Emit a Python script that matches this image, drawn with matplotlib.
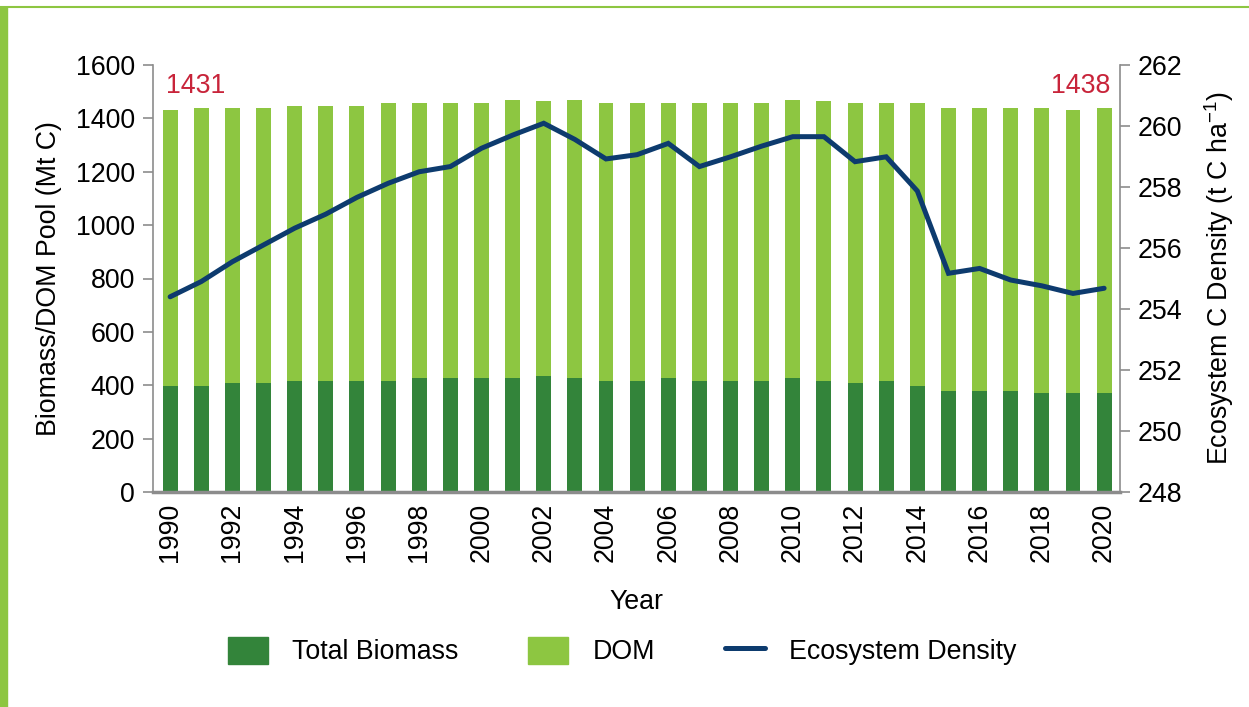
import matplotlib.pyplot as plt
from matplotlib.patches import Rectangle
from matplotlib.lines import Line2D

plt.rcParams['font.family'] = ['Liberation Sans', 'DejaVu Sans']
plt.rcParams['mathtext.fontset'] = 'custom'
plt.rcParams['mathtext.rm'] = 'Liberation Sans'

anos = list(range(1990, 2021))

# total do pool (biomassa + DOM), Mt C
total = [1431, 1440, 1440, 1440, 1447, 1447, 1447, 1457, 1457, 1457,
         1457, 1468, 1464, 1468, 1457, 1457, 1457, 1457, 1457, 1457,
         1468, 1464, 1457, 1457, 1457, 1438, 1438, 1438, 1438, 1433,
         1438]

biomassa = [398, 398, 408, 408, 416, 416, 416, 416, 427, 427,
            427, 427, 436, 427, 416, 416, 427, 416, 416, 416,
            427, 416, 408, 416, 398, 378, 378, 378, 371, 371,
            371]

dom = [t - b for t, b in zip(total, biomassa)]

# densidade do ecossistema, t C/ha
densidade = [254.40, 254.90, 255.55, 256.10, 256.65, 257.11, 257.66, 258.12,
             258.50, 258.67, 259.27, 259.70, 260.09, 259.56, 258.92, 259.06,
             259.43, 258.67, 258.99, 259.34, 259.65, 259.65, 258.83, 258.99,
             257.87, 255.17, 255.33, 254.95, 254.76, 254.51, 254.68]

cor_bio = '#33843a'
cor_dom = '#8dc641'
cor_linha = '#0d3b6e'
cor_vermelho = '#c8243a'
cor_eixo = '#8c8c8c'
fs = 19.3

fig = plt.figure(figsize=(12.49, 7.07), dpi=100)
ax = fig.add_axes([153 / 1249, 1 - 492 / 707, (1120 - 153) / 1249, (492 - 65) / 707])

ax.bar(anos, biomassa, width=0.48, color=cor_bio, label='Total Biomass')
ax.bar(anos, dom, width=0.48, bottom=biomassa, color=cor_dom, label='DOM')

ax.set_xlim(1989.45, 2020.51)
ax.set_ylim(0, 1600)
ax.set_yticks(range(0, 1601, 200))
ax.set_xticks(range(1990, 2021, 2))
ax.tick_params(axis='x', rotation=90, labelsize=fs, length=0, pad=8)
ax.tick_params(axis='y', labelsize=fs, color=cor_eixo, length=7, width=1.2, pad=6)
ax.set_xlabel('Year', fontsize=fs, labelpad=19)
ax.set_ylabel('Biomass/DOM Pool (Mt C)', fontsize=fs, labelpad=10)

for lado in ['top', 'right']:
    ax.spines[lado].set_visible(False)
ax.spines['left'].set_color(cor_eixo)
ax.spines['left'].set_linewidth(1.2)
ax.spines['bottom'].set_color(cor_eixo)
ax.spines['bottom'].set_linewidth(2.5)

ax2 = ax.twinx()
ax2.plot(anos, densidade, color=cor_linha, linewidth=3.6, solid_capstyle='round',
         solid_joinstyle='miter')
ax2.set_ylim(248, 262)
ax2.set_yticks(range(248, 263, 2))
ax2.tick_params(axis='y', labelsize=fs, color=cor_eixo, length=7, width=1.2, pad=6)
ax2.set_ylabel('Ecosystem C Density (t C ha$^{\\mathregular{-1}}$)', fontsize=fs, labelpad=14)
for lado in ['top', 'left', 'bottom']:
    ax2.spines[lado].set_visible(False)
ax2.spines['right'].set_color(cor_eixo)
ax2.spines['right'].set_linewidth(1.2)

# rótulos dos totais no início e no fim
ax.text(anos[0] - 0.12, 1495, str(total[0]), color=cor_vermelho, fontsize=fs,
        ha='left', va='baseline')
ax.text(anos[-1] + 0.2, 1495, str(total[-1]), color=cor_vermelho, fontsize=fs,
        ha='right', va='baseline')

handles = [Rectangle((0, 0), 1, 1, color=cor_bio),
           Rectangle((0, 0), 1, 1, color=cor_dom),
           Line2D([0], [0], color=cor_linha, linewidth=3.6, solid_capstyle='round')]
fig.legend(handles, ['Total Biomass', 'DOM', 'Ecosystem Density'],
           loc='center', bbox_to_anchor=(622 / 1249, 1 - 651 / 707), ncol=3,
           frameon=False, fontsize=fs, handlelength=1.5, handleheight=1.2,
           handletextpad=0.9, columnspacing=2.6)

# moldura verde da página
fig.patches.append(Rectangle((0, 0), 7 / 1249, 1 - 7 / 707, transform=fig.transFigure,
                             color=cor_dom, zorder=0))
fig.lines.append(Line2D([0, 1], [1 - 7 / 707, 1 - 7 / 707], transform=fig.transFigure,
                        color=cor_dom, linewidth=1.5))

fig.savefig('out.png', dpi=100)
